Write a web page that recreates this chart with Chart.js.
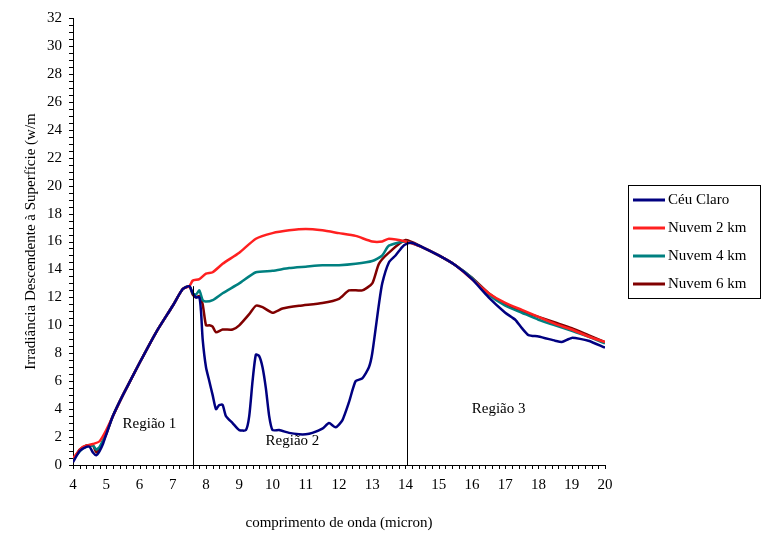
<!DOCTYPE html>
<html><head><meta charset="utf-8">
<script src="https://cdn.jsdelivr.net/npm/chart.js@4"></script>
<style>html,body{margin:0;padding:0;background:#fff}#w{width:763px;height:536px}</style>
</head><body><div id="w"><canvas id="c"></canvas></div>
<script>
const seriesNames=["Céu Claro","Nuvem 2 km","Nuvem 4 km","Nuvem 6 km"];
const seriesColors=["#000080","#ff2020","#008080","#800000"];
const common=[[5.2,3.5],[5.5,5.0],[6,7.3],[6.5,9.5],[7,11.4],[7.3,12.6],[7.5,12.8]];
const ceuClaro=[[4,0.2],[4.2,1.0],[4.4,1.3],[4.5,1.3],[4.6,0.9],[4.7,0.7],[4.8,1.0],[4.9,1.5],[5,2.2],...common,[7.6,12.3],[7.7,12.0],[7.8,12.0],[7.85,11.0],[7.9,9.0],[8,7.0],[8.1,6.0],[8.2,5.0],[8.3,4.0],[8.4,4.3],[8.5,4.3],[8.6,3.5],[8.8,3.0],[9,2.5],[9.2,2.5],[9.3,3.5],[9.4,6.0],[9.5,7.9],[9.6,7.8],[9.7,7.0],[9.8,5.5],[9.9,3.5],[10,2.5],[10.2,2.5],[10.5,2.3],[10.8,2.2],[11,2.2],[11.2,2.3],[11.5,2.6],[11.7,3.0],[11.9,2.7],[12.1,3.2],[12.3,4.5],[12.5,6.0],[12.7,6.2],[12.9,7.0],[13,8.0],[13.2,11.5],[13.3,13.0],[13.5,14.5],[13.7,15.0],[13.9,15.6],[14,15.8],[14.2,15.9],[14.5,15.6],[15,15.0],[15.5,14.3],[16,13.3],[16.5,12.0],[17,10.9],[17.3,10.4],[17.5,9.8],[17.7,9.3],[18,9.2],[18.5,8.9],[18.7,8.8],[19,9.1],[19.5,8.9],[20,8.4]];
const nuvem2=[[4,0.5],[4.3,1.3],[4.6,1.5],[4.8,1.7],[5,2.5],...common,[7.6,13.2],[7.8,13.3],[8,13.7],[8.2,13.8],[8.5,14.4],[9,15.2],[9.5,16.2],[10,16.6],[10.5,16.8],[11,16.9],[11.5,16.8],[12,16.6],[12.5,16.4],[13,16.0],[13.3,16.0],[13.5,16.2],[14,16.0],[14.5,15.6],[15,15.0],[15.5,14.3],[16,13.3],[16.5,12.3],[17,11.6],[17.5,11.1],[18,10.6],[18.5,10.1],[19,9.7],[19.5,9.2],[20,8.8]];
const nuvem4=[[4,0.4],[4.3,1.2],[4.6,1.4],[4.7,1.1],[4.8,1.3],[5,2.3],...common,[7.6,12.3],[7.7,12.2],[7.8,12.5],[7.9,11.8],[8,11.7],[8.2,11.8],[8.5,12.3],[9,13.0],[9.5,13.8],[10,13.9],[10.5,14.1],[11,14.2],[11.5,14.3],[12,14.3],[12.5,14.4],[13,14.6],[13.3,15.0],[13.5,15.7],[14,16.0],[14.5,15.6],[15,15.0],[15.5,14.3],[16,13.4],[16.5,12.2],[17,11.4],[17.5,10.9],[18,10.4],[18.5,10.0],[19,9.6],[19.5,9.2],[20,8.7]];
const nuvem6=[[4,0.3],[4.2,1.1],[4.4,1.4],[4.6,1.4],[4.7,0.9],[4.8,1.2],[5,2.2],...common,[7.6,12.2],[7.7,12.0],[7.8,12.1],[7.9,11.5],[8,10.0],[8.1,10.0],[8.2,9.9],[8.3,9.5],[8.5,9.7],[8.8,9.7],[9,10.0],[9.3,10.8],[9.5,11.4],[9.7,11.3],[10,10.9],[10.3,11.2],[10.8,11.4],[11.5,11.6],[12,11.9],[12.3,12.5],[12.7,12.5],[13,13.0],[13.2,14.4],[13.5,15.2],[14,16.1],[14.5,15.6],[15,15.0],[15.5,14.3],[16,13.4],[16.5,12.3],[17,11.5],[17.5,11.0],[18,10.6],[18.5,10.2],[19,9.8],[19.5,9.3],[20,8.8]];
const allSeries=[ceuClaro,nuvem2,nuvem4,nuvem6];
const regionLines=[[7.6,12.8],[14.05,16.0]];
const regionLabels=[["Região 1",6.3,2.9],["Região 2",10.6,1.7],["Região 3",16.8,4.0]];
const xTicks=[4,20,1], yTicks=[0,32,2];
const F="'Liberation Serif', serif";
const extras={id:'extras',afterDatasetsDraw(ch){
 const c=ch.ctx,x=ch.scales.x,y=ch.scales.y;
 c.save();c.strokeStyle='#000';c.lineWidth=1;
 regionLines.forEach(([v,t])=>{c.beginPath();c.moveTo(Math.round(x.getPixelForValue(v))+.5,y.getPixelForValue(0));c.lineTo(Math.round(x.getPixelForValue(v))+.5,y.getPixelForValue(t));c.stroke();});
 c.fillStyle='#000';c.font="15px "+F;c.textAlign='center';c.textBaseline='middle';
 regionLabels.forEach(([s,a,b])=>c.fillText(s,x.getPixelForValue(a),y.getPixelForValue(b)));
 c.beginPath();
 for(let v=4;v<=20.001;v+=0.2){const p=Math.round(x.getPixelForValue(v))+.5;c.moveTo(p,y.bottom);c.lineTo(p,y.bottom+4);}
 for(let v=0;v<=32.001;v+=0.5){const p=Math.round(y.getPixelForValue(v))+.5;c.moveTo(x.left,p);c.lineTo(x.left-4,p);}
 c.stroke();
 c.strokeRect(628.5,185.5,132,113);
 c.font="15px "+F;c.textAlign='left';
 ch.data.datasets.forEach((d,i)=>{const yy=200+i*28;c.strokeStyle=d.borderColor;c.lineWidth=3;c.beginPath();c.moveTo(633,yy);c.lineTo(665,yy);c.stroke();c.fillStyle='#000';c.fillText(d.label,668,yy);});
 c.restore();}};
new Chart(document.getElementById('c'),{type:'line',
 data:{datasets:allSeries.map((s,i)=>({label:seriesNames[i],data:s.map(([a,b])=>({x:a,y:b})),borderColor:seriesColors[i],borderWidth:2.5,pointRadius:0,tension:0.2}))},
 options:{responsive:true,maintainAspectRatio:false,animation:false,
  layout:{padding:{left:18,right:158,top:18,bottom:0}},
  plugins:{legend:{display:false},tooltip:{enabled:false}},
  scales:{
   x:{type:'linear',min:xTicks[0],max:xTicks[1],ticks:{stepSize:xTicks[2],color:'#000',font:{family:F,size:15}},grid:{display:false,drawTicks:true},border:{color:'#000'},
      title:{display:true,text:'comprimento de onda (micron)',color:'#000',font:{family:F,size:15},padding:{top:17}}},
   y:{min:yTicks[0],max:yTicks[1],ticks:{stepSize:yTicks[2],color:'#000',font:{family:F,size:15}},grid:{display:false},border:{color:'#000'},
      title:{display:true,text:'Irradiância Descendente à Superfície (w/m',color:'#000',font:{family:F,size:15}}}
  }},plugins:[extras]});
</script></body></html>
